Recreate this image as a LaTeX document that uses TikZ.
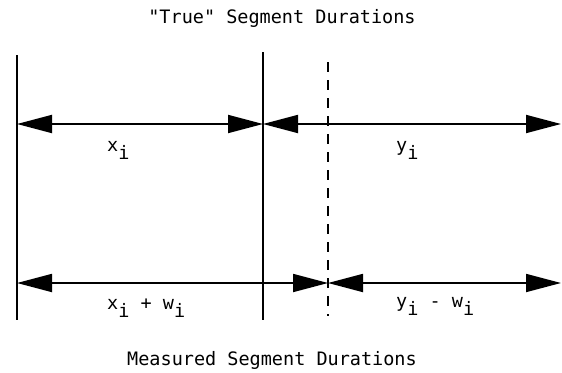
\documentclass[tikz,border=0pt]{standalone}
\usepackage{fontspec}
\newfontfamily\mono{DejaVu Sans Mono}
\usetikzlibrary{arrows.meta}
\tikzset{
 dur/.style={line width=1.8pt,{Triangle[length=35pt,width=18pt]}-{Triangle[length=35pt,width=18pt]}},
 lbl/.style={font=\mono\fontsize{18.5}{22}\selectfont,inner sep=0pt}
}
\newcommand{\low}[1]{\raisebox{-8pt}{#1}}
\begin{document}
\begin{tikzpicture}[x=1pt,y=-1pt]
 \useasboundingbox (0,0) rectangle (562,372);
 \coordinate (lt) at (17,55);   \coordinate (lb) at (17,320);
 \coordinate (mt) at (263,52);  \coordinate (mb) at (263,320);
 \coordinate (dt) at (328,62);  \coordinate (db) at (328,316);
 \coordinate (a1) at (17,124);  \coordinate (a2) at (263,124); \coordinate (a3) at (561,124);
 \coordinate (b1) at (17,283);  \coordinate (b2) at (328,283); \coordinate (b3) at (561,283);
 \draw[line width=2pt] (lt)--(lb);
 \draw[line width=2pt] (mt)--(mb);
 \draw[line width=2pt,dash pattern=on 10pt off 8pt] (dt)--(db);
 \draw[dur] (a1)--(a2);
 \draw[dur] (a2)--(a3);
 \draw[dur] (b1)--(b2);
 \draw[dur] (b2)--(b3);
 \node[lbl] (top) at (282,18) {"True" Segment Durations};
 \node[lbl] (bot) at (272,360) {Measured Segment Durations};
 \node[lbl,anchor=west] (x) at (107,150) {x\low{i}};
 \node[lbl,anchor=west] (y) at (396,150) {y\low{i}};
 \node[lbl,anchor=west] (xw) at (107,308) {x\low{i} + w\low{i}};
 \node[lbl,anchor=west] (yw) at (396,306) {y\low{i} - w\low{i}};
\end{tikzpicture}
\end{document}
